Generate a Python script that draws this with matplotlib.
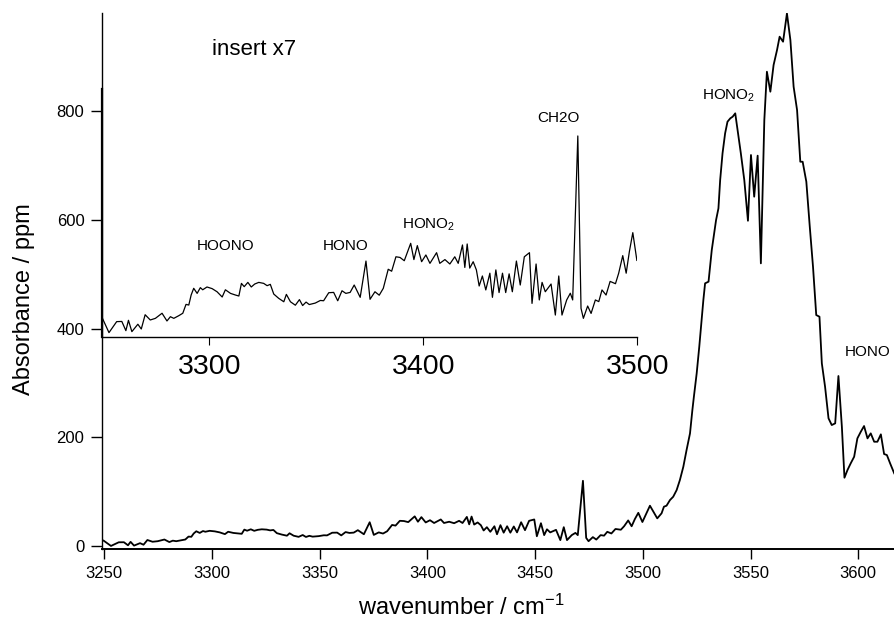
import matplotlib
matplotlib.use("Agg")
import matplotlib.pyplot as plt
import numpy as np

plt.rcParams['font.family'] = ['Liberation Sans', 'DejaVu Sans']
plt.rcParams['mathtext.fontset'] = 'custom'
plt.rcParams['mathtext.rm'] = 'Liberation Sans'
plt.rcParams['mathtext.it'] = 'Liberation Sans'

# ---- data: wavenumber (cm-1) and absorbance (ppm) ----
wavenumber = [
    3249.7, 3253.1, 3256.7, 3259.1, 3261.0, 3262.2, 3263.8, 3266.6, 3268.2, 3270.0,
    3272.4, 3274.8, 3277.9, 3280.2, 3281.8, 3283.4, 3285.7, 3287.6, 3289.1, 3290.4,
    3291.5, 3292.7, 3294.3, 3295.8, 3296.9, 3298.9, 3301.3, 3303.6, 3306.0, 3307.5,
    3309.9, 3312.2, 3313.8, 3315.0, 3316.3, 3318.0, 3319.6, 3321.2, 3323.1, 3325.4,
    3327.0, 3328.5, 3330.1, 3332.4, 3334.8, 3336.0, 3337.9, 3340.2, 3342.1, 3343.6,
    3345.2, 3346.7, 3349.5, 3351.9, 3353.4, 3355.8, 3358.1, 3360.0, 3362.0, 3363.8,
    3365.8, 3367.7, 3370.5, 3373.2, 3375.1, 3377.4, 3379.4, 3381.3, 3383.6, 3385.2,
    3387.2, 3389.1, 3391.1, 3394.1, 3395.6, 3397.2, 3399.2, 3401.2, 3403.1, 3406.2,
    3407.7, 3410.1, 3412.4, 3414.7, 3416.3, 3418.3, 3419.4, 3420.5, 3421.7, 3423.3,
    3424.8, 3426.1, 3427.6, 3429.2, 3431.1, 3432.3, 3433.9, 3435.4, 3437.0, 3438.5,
    3440.1, 3441.6, 3443.5, 3445.3, 3447.2, 3449.6, 3450.8, 3452.7, 3454.2, 3455.5,
    3457.0, 3459.7, 3461.7, 3463.3, 3464.8, 3467.0, 3468.7, 3469.8, 3472.2, 3473.7,
    3474.8, 3476.8, 3478.4, 3480.4, 3482.0, 3483.5, 3485.4, 3487.3, 3489.8, 3491.3,
    3493.2, 3494.8, 3496.3, 3497.9, 3499.8,
    3503.3, 3506.7, 3508.7, 3509.8, 3511.0, 3512.6, 3514.1, 3515.7, 3517.2, 3518.8,
    3520.3, 3521.9, 3523.0, 3523.7, 3525.0, 3526.2, 3527.3, 3528.1, 3528.9, 3530.5,
    3532.0, 3534.0, 3535.1, 3535.9, 3537.0, 3538.2, 3539.3, 3540.6, 3541.7, 3542.9,
    3544.0, 3545.5, 3547.1, 3548.8, 3550.2, 3551.7, 3553.3, 3554.8, 3556.4, 3557.6,
    3559.2, 3560.7, 3562.3, 3563.5, 3565.1, 3566.9, 3568.5, 3570.0, 3571.6, 3573.1,
    3574.2, 3575.9, 3577.5, 3579.0, 3580.5, 3582.0, 3583.1, 3584.6, 3586.2, 3587.7,
    3589.3, 3590.8, 3592.4, 3593.6, 3595.0, 3596.5, 3598.1, 3599.6, 3601.2, 3602.7,
    3604.3, 3605.8, 3607.4, 3608.9, 3610.5, 3612.0, 3613.3, 3614.8, 3616.7,
]
absorbance = [
    9.9, 0.2, 6.9, 7.0, 1.4, 7.7, 0.8, 5.3, 2.4, 11.1,
    7.9, 8.9, 12.0, 7.3, 9.9, 8.9, 10.5, 12.0, 17.4, 17.0,
    23.1, 27.2, 24.1, 27.6, 26.3, 28.0, 27.0, 25.1, 21.9, 26.3,
    24.1, 23.1, 22.5, 30.2, 28.2, 30.8, 28.0, 29.8, 30.8, 30.2,
    28.8, 29.6, 23.7, 21.1, 19.0, 23.5, 19.0, 16.9, 20.3, 16.7,
    18.8, 17.3, 18.2, 19.8, 19.6, 24.5, 24.7, 19.6, 25.7, 24.1,
    24.7, 29.2, 21.7, 43.8, 20.5, 25.1, 23.0, 27.2, 38.8, 37.6,
    46.4, 46.0, 44.0, 54.6, 44.7, 53.2, 43.4, 47.5, 42.4, 48.9,
    42.4, 44.7, 42.0, 46.4, 42.4, 53.6, 39.9, 54.2, 39.5, 43.4,
    38.4, 28.6, 34.7, 26.2, 36.4, 21.7, 38.4, 24.6, 36.4, 24.6,
    36.0, 25.1, 43.8, 29.2, 46.4, 48.9, 18.0, 42.0, 20.1, 30.8,
    25.1, 29.8, 10.9, 34.7, 10.9, 20.1, 24.2, 20.1, 120.0, 15.0,
    8.9, 16.4, 11.9, 20.1, 19.1, 26.2, 23.1, 31.4, 30.0, 36.4,
    47.1, 36.4, 49.6, 61.1, 44.2,
    74.2, 50.9, 60.2, 72.4, 74.2, 84.6, 90.7, 103.0, 121.4, 145.9,
    176.6, 207.3, 250.2, 274.7, 317.7, 366.7, 415.8, 452.6, 483.3, 486.4,
    544.6, 599.8, 621.3, 673.4, 722.5, 759.3, 780.7, 786.9, 789.9, 796.1,
    765.4, 722.5, 673.4, 598.5, 719.4, 642.7, 718.2, 520.1, 783.8, 872.7,
    835.9, 885.0, 912.6, 937.1, 927.9, 980.0, 931.0, 845.1, 802.2, 707.1,
    707.0, 670.3, 587.5, 513.9, 425.0, 421.9, 336.1, 293.1, 235.0, 222.6,
    225.7, 312.8, 219.5, 125.7, 139.8, 152.1, 164.3, 198.1, 210.4, 220.8,
    198.1, 207.3, 191.9, 191.9, 205.5, 169.3, 167.4, 152.1, 133.8,
]

main_xticks = [3250, 3300, 3350, 3400, 3450, 3500, 3550, 3600]
main_yticks = [0, 200, 400, 600, 800]
inset_xticks = [3300, 3400, 3500]
inset_end = 3500

wn = np.array(wavenumber)
ab = np.array(absorbance)

W, H = 894, 635
fig = plt.figure(figsize=(W / 100, H / 100), dpi=100)

def frac(left_px, top_px, right_px, bottom_px):
    return [left_px / W, 1 - bottom_px / H, (right_px - left_px) / W, (bottom_px - top_px) / H]

# main axes
ax = fig.add_axes(frac(102.3, 13, 894, 549.3))
ax.plot(wn, ab, color='black', lw=1.3)
ax.set_xlim(3249.07, 3616.6)
ax.set_ylim(-6, 980.7)
ax.set_xticks(main_xticks)
ax.set_yticks(main_yticks)
for s in ['top', 'right']:
    ax.spines[s].set_visible(False)
ax.spines['left'].set_linewidth(1.0)
ax.spines['bottom'].set_linewidth(1.4)
ax.tick_params(axis='y', direction='out', length=7.9, width=1.0, labelsize=12, pad=5)
ax.tick_params(axis='x', direction='out', length=7.2, width=1.0, labelsize=12, pad=5)
ax.patch.set_visible(False)

fig.text(461 / W, 1 - 607 / H, 'wavenumber / cm$^{-1}$', fontsize=17, ha='center', va='center')
fig.text(24 / W, 1 - 299 / H, 'Absorbance / ppm', fontsize=17, ha='center', va='center', rotation=90)

# annotations on main axes (main data coordinates)
ax.text(3527.3, 821.9, 'HONO$_2$', fontsize=11, ha='left', va='baseline')
ax.text(3593.9, 350.1, 'HONO', fontsize=11, ha='left', va='baseline')

# inset axes (magnified view of the same spectrum)
axi = fig.add_axes(frac(101.7, 13, 637.3, 337.3))
axi.patch.set_visible(False)
m = wn <= inset_end
axi.plot(wn[m], ab[m], color='black', lw=0.9)
axi.set_xlim(3249.7, 3500)
axi.set_ylim(-2.65, 194.9)
axi.set_xticks(inset_xticks)
axi.set_yticks([])
for s in ['top', 'right']:
    axi.spines[s].set_visible(False)
axi.spines['bottom'].set_linewidth(1.0)
axi.spines['left'].set_linewidth(1.6)
axi.spines['left'].set_bounds(-2.65, 148.3)
axi.tick_params(axis='x', direction='out', length=5.8, width=0.8, labelsize=20.5, pad=6)

axi.text(3301.2, 169.5, 'insert x7', fontsize=16, ha='left', va='baseline')
axi.text(3307.5, 53.0, 'HOONO', fontsize=11, ha='center', va='center')
axi.text(3363.5, 53.0, 'HONO', fontsize=11, ha='center', va='center')
axi.text(3389.9, 63.8, 'HONO$_2$', fontsize=11, ha='left', va='baseline')
axi.text(3463.0, 131.2, 'CH2O', fontsize=11, ha='center', va='center')

fig.savefig('out.png', dpi=100)
